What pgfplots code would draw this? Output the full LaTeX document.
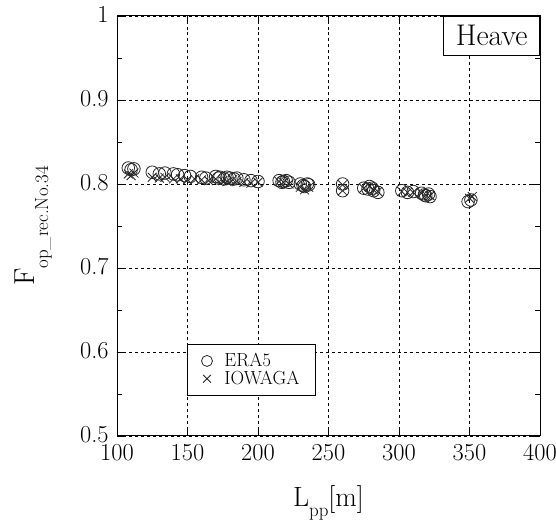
\documentclass[border=0pt]{standalone}
\usepackage{pgfplots}
\pgfplotsset{compat=1.18}
\pgfplotstableread{
x y
108 0.819
110 0.817
112 0.818
125 0.814
130 0.812
134 0.813
140 0.812
143 0.811
148 0.810
152 0.809
160 0.808
163 0.807
170 0.809
172 0.807
173 0.808
176 0.806
178 0.808
180 0.807
183 0.806
185 0.807
190 0.805
195 0.804
200 0.803
215 0.804
217 0.802
218 0.803
220 0.804
222 0.802
230 0.800
232 0.798
233 0.797
235 0.800
236 0.799
260 0.800
260 0.792
275 0.795
278 0.794
279 0.797
281 0.795
282 0.792
285 0.790
302 0.792
306 0.790
310 0.791
316 0.789
318 0.787
319 0.786
321 0.788
322 0.785
349 0.779
351 0.781
}\eraData
\pgfplotstableread{
x y
108 0.812
110 0.810
112 0.813
125 0.808
130 0.807
134 0.808
140 0.806
145 0.806
150 0.805
155 0.806
160 0.805
165 0.804
170 0.806
175 0.804
178 0.803
182 0.805
185 0.803
190 0.802
195 0.801
200 0.802
215 0.803
218 0.802
222 0.800
230 0.796
233 0.793
236 0.796
260 0.799
260 0.792
275 0.795
279 0.797
282 0.793
285 0.791
302 0.791
306 0.790
310 0.790
316 0.789
319 0.787
322 0.786
350 0.783
352 0.785
}\iowData
\begin{document}
\begin{tikzpicture}
\begin{axis}[
  scale only axis, width=423bp, height=420bp,
  xmin=100, xmax=400, ymin=0.5, ymax=1,
  xtick={100,150,200,250,300,350,400},
  ytick={0.5,0.6,0.7,0.8,0.9,1},
  yticklabels={0.5,0.6,0.7,0.8,0.9,1},
  minor y tick num=1,
  tick align=inside, major tick length=8bp, minor tick length=5bp,
  tick style={black, line width=0.8pt},
  axis line style={line width=1pt},
  grid=major, major grid style={dashed, black, line width=0.6pt},
  /pgf/number format/assume math mode=true,
  tick label style={font=\fontsize{24}{26}\selectfont, scale=1.02, inner sep=1bp},
  xticklabel style={yshift=-7bp},
  yticklabel style={xshift=-7bp, yshift=1.5bp},
  xlabel={{\fontsize{28}{30}\selectfont L}\raisebox{-10bp}{\fontsize{19}{20}\selectfont pp}{\fontsize{28}{30}\selectfont [m]}},
  xlabel style={at={(rel axis cs:0.5,-0.169)}, anchor=base},
  ylabel={{\fontsize{29}{30}\selectfont F}\raisebox{-14bp}{\fontsize{19}{20}\selectfont op\_rec.No.34}},
  ylabel style={at={(rel axis cs:-0.196,0.5)}, anchor=base},
  legend style={at={(rel axis cs:0.1655,0.219)}, anchor=north west, draw=black, line width=1pt,
    font=\fontsize{19}{20}\selectfont, inner xsep=14bp, inner ysep=7bp, row sep=-1bp, column sep=10bp},
  legend image post style={mark size=5.5bp},
  legend cell align=left,
]
\addplot[only marks, mark=o, mark size=6.3bp, black!85, line width=0.8pt] table[x=x,y=y] {\eraData};
\addlegendentry{ERA5}
\addplot[only marks, mark=x, mark size=6.3bp, black!85, line width=0.8pt] table[x=x,y=y] {\iowData};
\addlegendentry{IOWAGA}
\node[anchor=north east, draw=black, line width=1pt, fill=white, inner xsep=12bp, inner ysep=9bp,
  font=\fontsize{30}{32}\selectfont] at (rel axis cs:1,1) {Heave};
\coordinate (SW) at (rel axis cs:0,0);
\coordinate (NE) at (rel axis cs:1,1);
\end{axis}
\pgfresetboundingbox
\path ([shift={(-117bp,-90bp)}]SW) rectangle ([shift={(16bp,16bp)}]NE);
\end{tikzpicture}
\end{document}
